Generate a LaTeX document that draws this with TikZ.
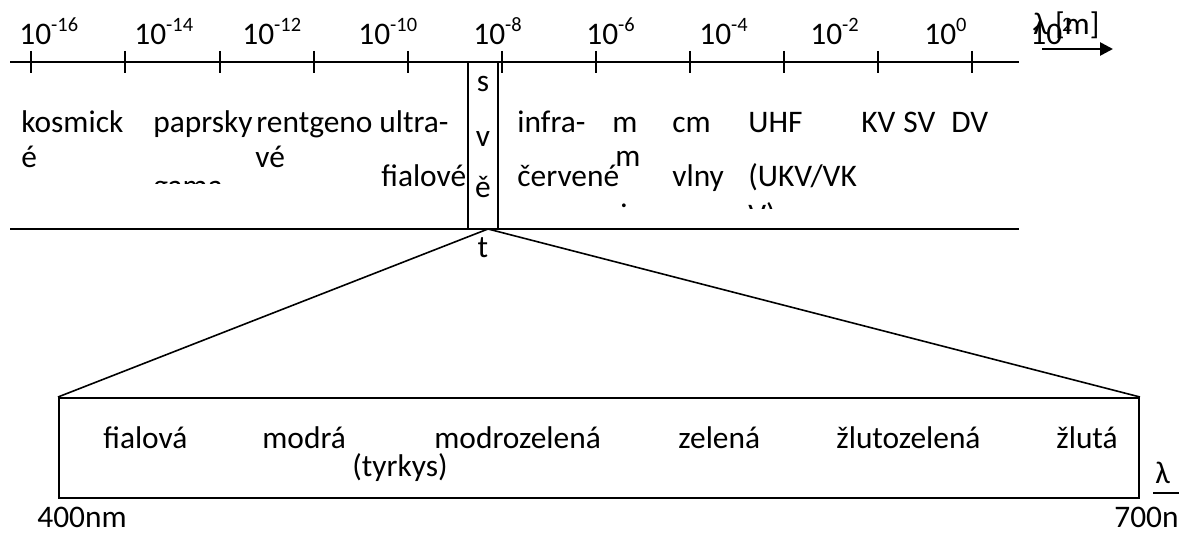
\documentclass[tikz,border=0pt]{standalone}
\usepackage{fontspec}
\setmainfont{Carlito}
\usetikzlibrary{arrows.meta}

\newcommand{\tenpow}[1]{10\raisebox{6.5pt}{\fontsize{10.2}{12}\selectfont #1}}

\tikzset{
  txt/.style={anchor=base west, inner sep=0pt, font=\fontsize{15.7}{18}\selectfont},
  ctxt/.style={txt, anchor=base},
  axis/.style={line width=1pt},
  zoomline/.style={line width=0.8pt}
}

\begin{document}
\begin{tikzpicture}[x=0.5pt, y=-0.5pt, >={Triangle[length=6.5pt,width=6.5pt]}]
  \useasboundingbox (0,0) rectangle (1179,535);
  \coordinate (topL) at (10,62);
  \coordinate (topR) at (1019,62);
  \coordinate (botL) at (10,229);
  \coordinate (botR) at (1019,229);
  \coordinate (visTL) at (468,62);
  \coordinate (visBL) at (468,229);
  \coordinate (visTR) at (498,62);
  \coordinate (visBR) at (498,229);
  \coordinate (apex) at (488,229);
  \coordinate (arL) at (1042,49);
  \coordinate (arR) at (1113,49);
  \draw[axis] (topL) -- (topR);
  \draw[axis] (botL) -- (botR);
  \draw[axis] (visTL) -- (visBL);
  \draw[axis] (visTR) -- (visBR);
  \foreach \x in {31,125,220,314,408,502,596,690,784,878,972}
    \draw[axis] (\x,51) -- (\x,73);
  \draw[->, line width=1.3pt] (arL) -- (arR);

  \node[txt] (p16) at (19,45) {\tenpow{-16}};
  \node[txt] (p14) at (134,45) {\tenpow{-14}};
  \node[txt] (p12) at (242,45) {\tenpow{-12}};
  \node[txt] (p10) at (358,45) {\tenpow{-10}};
  \node[txt] (p8) at (473,45) {\tenpow{-8}};
  \node[txt] (p6) at (586,45) {\tenpow{-6}};
  \node[txt] (p4) at (699,45) {\tenpow{-4}};
  \node[txt] (p2) at (810,45) {\tenpow{-2}};
  \node[txt] (p0) at (924,45) {\tenpow{0}};
  \node[txt] (pp2) at (1030,45) {\tenpow{2}};
  \node[txt] (unit) at (1033,35) {λ [m]};

  \node[txt] (kosA) at (21,133) {kosmick};
  \node[txt] (kosB) at (21,168) {é};
  \node[txt] (gamA) at (153,133) {paprsky};
  \begin{scope}
    \clip (140,150) rectangle (255,184);
    \node[txt] (gamB) at (153,197) {gama};
  \end{scope}
  \node[txt] (renA) at (256,133) {rentgeno};
  \node[txt] (renB) at (255,168) {vé};
  \node[txt] (uvA) at (379,133) {ultra-};
  \node[txt] (uvB) at (381,187) {fialové};
  \node[ctxt] (svS) at (483,92) {s};
  \node[ctxt] (svV) at (483,147) {v};
  \node[ctxt] (svE) at (483,198) {ě};
  \node[ctxt] (svT) at (483,257) {t};
  \node[txt] (irA) at (517,133) {infra-};
  \node[txt] (irB) at (517,186) {červené};
  \node[txt] (mmA) at (612,133) {m};
  \node[txt] (mmB) at (615,167) {m};
  \node[txt] (cmA) at (672,133) {cm};
  \node[txt] (cmB) at (672,186) {vlny};
  \node[txt] (uhfA) at (748,133) {UHF};
  \node[txt] (uhfB) at (748,186) {(UKV/VK};
  \begin{scope}
    \clip (600,195) rectangle (850,209);
    \node[txt] (mmC) at (620,226) {i};
    \node[txt] (uhfC) at (748,226) {V)};
  \end{scope}
  \node[txt] (kv) at (861,133) {KV};
  \node[txt] (sv) at (903,133) {SV};
  \node[txt] (dv) at (951,133) {DV};

  \node[draw, line width=1pt, inner sep=0pt, minimum width=540pt, minimum height=50pt, anchor=north west] (vis) at (58,397) {};
  \draw[zoomline] (apex) -- (vis.north west);
  \draw[zoomline] (apex) -- (vis.north east);

  \node[txt] (fia) at (103,448) {fialová};
  \node[txt] (mod) at (262,448) {modrá};
  \node[txt] (tyr) at (434,448) {modrozelená};
  \node[txt] (tyrB) at (352,476) {(tyrkys)};
  \node[txt] (zel) at (678,448) {zelená};
  \node[txt] (zlz) at (836,448) {žlutozelená};
  \node[txt] (zlu) at (1056,448) {žlutá};
  \node[txt] (lam) at (1155,483) {λ};
  \draw[axis] (1153,493) -- (1179,493);
  \node[txt] (nm4) at (37,527) {400nm};
  \node[txt] (nm7) at (1114,527) {700n};
\end{tikzpicture}
\end{document}
